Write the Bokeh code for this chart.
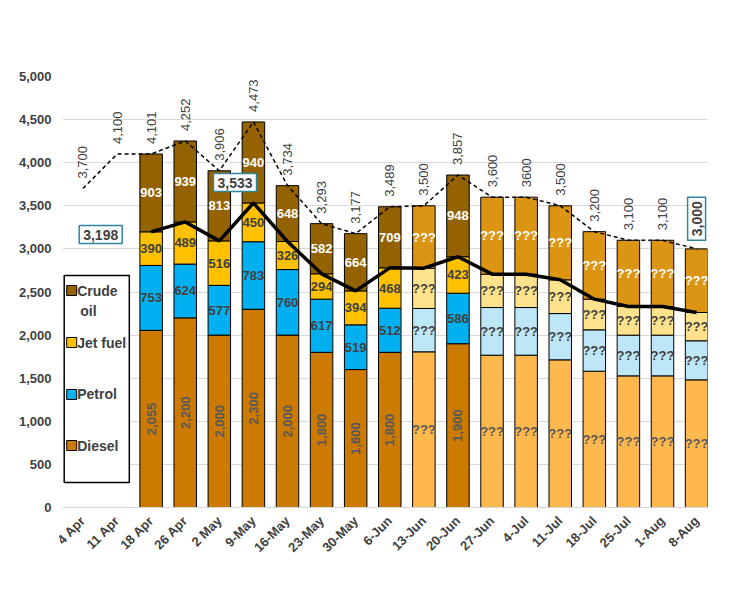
import math
from bokeh.plotting import figure
from bokeh.models import Range1d, Label, FixedTicker, NumeralTickFormatter
from bokeh.core.properties import value
from bokeh.embed import file_html
from bokeh.resources import INLINE

bar_dates = ["18 Apr","26 Apr","2 May","9-May","16-May","23-May","30-May","6-Jun","13-Jun","20-Jun","27-Jun","4-Jul","11-Jul","18-Jul","25-Jul","1-Aug","8-Aug"]
all_dates = ["4 Apr","11 Apr"] + bar_dates
diesel = [2055,2200,2000,2300,2000,1800,1600,1800,1806,1900,1767,1767,1713,1581,1527,1527,1481]
petrol = [753,624,577,783,760,617,519,512,503,586,553,553,537,480,472,472,453]
jet    = [390,489,516,450,326,294,394,468,467,423,387,387,391,356,333,333,328]
crude  = [903,939,813,940,648,582,664,709,724,948,893,893,859,783,768,768,738]
actual = [1,1,1,1,1,1,1,1,0,1,0,0,0,0,0,0,0]
totals = [3700,4100,4101,4252,3906,4473,3734,3293,3177,3489,3500,3857,3600,3600,3500,3200,3100,3100,3000]
total_labels = ["3,700","4,100","4,101","4,252","3,906","4,473","3,734","3,293","3,177","3,489","3,500","3,857","3,600","3600","3,500","3,200","3,100","3,100",""]
yticks = list(range(0, 5001, 500))

n = len(all_dates)
xs_all = list(range(n))
xb = [i + 2 for i in range(len(bar_dates))]

C = {"d": ("#CC7A00", "#FFB84D"), "p": ("#00B0F0", "#BDE6F7"),
     "j": ("#FFC000", "#FFE38C"), "c": ("#946200", "#DC9413")}
def cols(k):
    return [C[k][0] if a else C[k][1] for a in actual]

TF = "Liberation Sans"
p = figure(width=725, height=599, output_backend="svg", toolbar_location=None,
           x_range=Range1d(-0.6, 18.32), y_range=Range1d(0, 5000),
           min_border_left=62, min_border_right=18, min_border_top=76, min_border_bottom=92)
p.outline_line_color = None
p.xgrid.grid_line_color = None
p.ygrid.grid_line_color = "#D9D9D9"
p.yaxis.ticker = FixedTicker(ticks=yticks)
p.yaxis.formatter = NumeralTickFormatter(format="0,0")
p.xaxis.ticker = FixedTicker(ticks=xs_all)
p.xaxis.major_label_overrides = {i: d for i, d in enumerate(all_dates)}
p.xaxis.major_label_orientation = math.pi / 4
for ax in (p.xaxis, p.yaxis):
    ax.major_label_text_font = TF
    ax.major_label_text_font_size = "13px"
    ax.major_label_text_font_style = "bold"
    ax.major_label_text_color = "#404040"
    ax.major_tick_line_color = None
    ax.minor_tick_line_color = None
p.yaxis.axis_line_color = None
p.xaxis.axis_line_color = "#D9D9D9"

b1 = [a + b for a, b in zip(diesel, petrol)]
b2 = [a + b for a, b in zip(b1, jet)]
b3 = [a + b for a, b in zip(b2, crude)]
w = 0.66
p.vbar(x=xb, bottom=0, top=diesel, width=w, fill_color=cols("d"), line_color="black", line_width=1)
p.vbar(x=xb, bottom=diesel, top=b1, width=w, fill_color=cols("p"), line_color="black", line_width=1)
p.vbar(x=xb, bottom=b1, top=b2, width=w, fill_color=cols("j"), line_color="black", line_width=1)
p.vbar(x=xb, bottom=b2, top=b3, width=w, fill_color=cols("c"), line_color="black", line_width=1)

p.line(xs_all, totals, line_color="black", line_width=1.5, line_dash="4 3")
p.line(xb, b2, line_color="black", line_width=3.5)

def lab(v, a):
    return f"{v:,}" if a else "???"
tf = value(TF)
p.text(x=xb, y=[d/2 for d in diesel], text=[lab(v, a) for v, a in zip(diesel, actual)],
       angle=[math.pi/2 if a else 0 for a in actual], text_align="center", text_baseline="middle",
       text_font_size="13px", text_font_style="bold", text_color="#595959", text_font=tf)
p.text(x=xb, y=[(a+b)/2 for a, b in zip(diesel, b1)], text=[str(v) if a else "???" for v, a in zip(petrol, actual)],
       text_align="center", text_baseline="middle", text_font_size="13px", text_font_style="bold", text_color="#404040", text_font=tf)
p.text(x=xb, y=[(a+b)/2 for a, b in zip(b1, b2)], text=[str(v) if a else "???" for v, a in zip(jet, actual)],
       text_align="center", text_baseline="middle", text_font_size="13px", text_font_style="bold", text_color="#404040", text_font=tf)
p.text(x=xb, y=[(a+b)/2 for a, b in zip(b2, b3)], text=[str(v) if a else "???" for v, a in zip(crude, actual)],
       text_align="center", text_baseline="middle", text_font_size="13px", text_font_style="bold", text_color="white", text_font=tf)
p.text(x=xs_all, y=totals, text=total_labels, angle=math.pi/2, text_align="left", text_baseline="middle",
       y_offset=-10, text_font_size="13px", text_color="#404040", text_font=tf)

def box(x, y, t, angle=0):
    p.add_layout(Label(x=x, y=y, text=t, text_align="center", text_baseline="middle", angle=angle,
                       text_font=TF, text_font_size="14px", text_font_style="bold", text_color="#404040",
                       background_fill_color="white", border_line_color="#31859C", border_line_width=1.5,
                       padding=4))
box(0.52, 3167, "3,198")
box(4.46, 3770, "3,533")
box(18.0, 3350, "3,000", angle=math.pi/2)

# legend
p.quad(left=-0.55, right=1.36, bottom=290, top=2691, fill_color="white", line_color="black", line_width=1.5)
leg_names = ["Crude", "Jet fuel", "Petrol", "Diesel"]
leg_y = [2517, 1914, 1311, 719]
leg_c = [C["c"][0], C["j"][0], C["p"][0], C["d"][0]]
p.scatter(x=[-0.33]*4, y=leg_y, marker="square", size=10, fill_color=leg_c, line_color="black")
p.text(x=[-0.17]*4 + [-0.08], y=leg_y + [2285], text=leg_names + ["oil"],
       text_baseline="middle", text_font_size="14px", text_font_style="bold", text_color="#404040", text_font=tf)

def lbl(x, y, t, size, align="center", color="#404040", style="bold", font=TF, **kw):
    p.add_layout(Label(x=x, y=y, text=t, text_align=align, text_baseline="middle", text_font=font,
                       text_font_size=size, text_font_style=style, text_color=color, **kw))
lbl(7.14, 5603, "Australian forward fuel orders 4 Apr -  8 Aug 2026", "18px")
lbl(5.54, 5313, "on dates of media briefings", "18px")
lbl(8.9, 5300, "(excl. extra orders)", "12px", align="left")
lbl(-0.8, 5278, "ML", "13px")
lbl(-0.55, -812, "Data: PM and DCCEEW media briefings", "13px", align="left", color="black",
    background_fill_color="white", border_line_color="black", border_line_width=1.5, padding=5)
lbl(14.4, -760, "http://crudeoilpeak.info", "10px", align="left", color="#0000CC", style="normal", font="Liberation Serif")
lbl(14.4, -935, "Crude Oil Peak", "15px", align="left", color="#E00000")

open("out.html", "w").write(file_html(p, INLINE))
